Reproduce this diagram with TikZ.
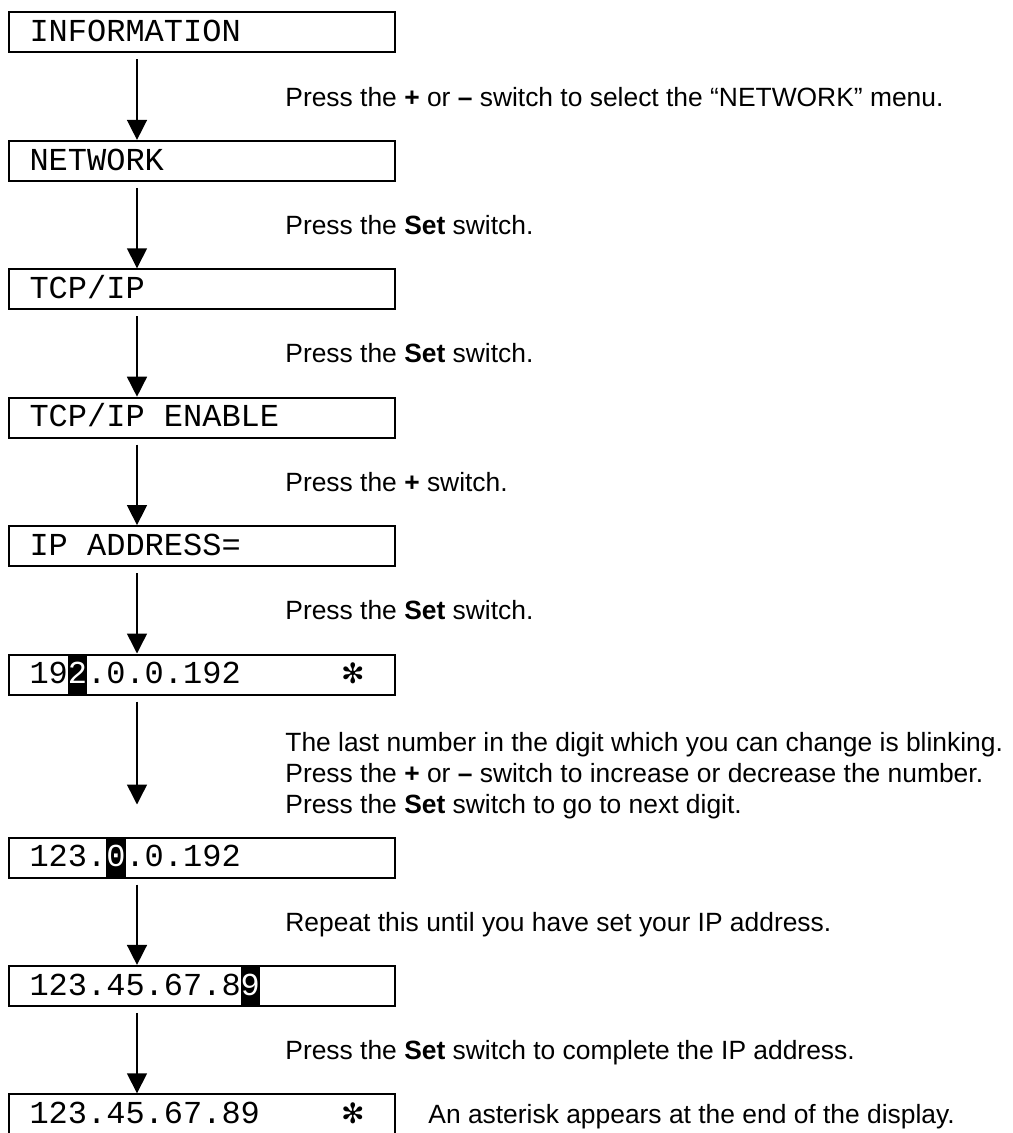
\documentclass[tikz,border=0pt]{standalone}
\usepackage{fontspec}
\usepackage{xcolor}
\usepackage{tikz}
\usetikzlibrary{arrows.meta,positioning,calc}
\setsansfont{Liberation Sans}
\setmonofont{Liberation Mono}
\newfontfamily\symfont{DejaVu Sans}
\newcommand{\blink}[1]{{\setlength{\fboxsep}{0pt}\colorbox{black}{\rule[-5.4pt]{0pt}{20pt}\textcolor{white}{#1}}}}
\newcommand{\lcdstar}{\hskip 0pt plus 1filll{\symfont\fontsize{14}{14}\selectfont ✻}\hspace*{5pt}\mbox{}}
\newcommand{\blank}{\hspace*{0.6em}}
\tikzset{
  lcd/.style={draw=black, line width=1pt, minimum width=193pt, text width=172.5pt, inner xsep=10.25pt, inner ysep=0pt, text height=14.6pt, text depth=5.4pt, align=left, font=\ttfamily\fontsize{16}{16}\selectfont},
  note/.style={inner sep=0pt, anchor=west, text height=9.4pt, text depth=0pt, font=\sffamily\fontsize{13.2}{15.5}\selectfont},
  flow/.style={-{Triangle[length=10pt,width=10pt]}, line width=0.75pt, draw=black}
}
\begin{document}
\begin{tikzpicture}[node distance=43.2pt]
  \useasboundingbox (0,0) rectangle (506pt,-566.5pt);
  \node[lcd] (info) at (101pt,-16.25pt) {INFORMATION};
  \node[lcd, below=of info] (net) {NETWORK};
  \node[lcd, below=of net] (tcp) {TCP/IP};
  \node[lcd, below=of tcp] (enable) {TCP/IP\blank ENABLE};
  \node[lcd, below=of enable] (ipaddr) {IP\blank ADDRESS=};
  \node[lcd, below=of ipaddr] (first) {19\blink{2}.0.0.192\lcdstar};
  \node[lcd, below=70.5pt of first] (second) {123.\blink{0}.0.192};
  \node[lcd, below=of second] (last) {123.45.67.8\blink{9}};
  \node[lcd, below=of last] (done) {123.45.67.89\lcdstar};

  % instructions beside the arrows
  \node[note] (t1) at ($(info.south west)!0.5!(net.north west)+(138.5pt,0)$) {Press the \textbf{+} or \textbf{--} switch to select the “NETWORK” menu.};
  \node[note] (t2) at ($(net.south west)!0.5!(tcp.north west)+(138.5pt,0)$) {Press the \textbf{Set} switch.};
  \node[note] (t3) at ($(tcp.south west)!0.5!(enable.north west)+(138.5pt,0)$) {Press the \textbf{Set} switch.};
  \node[note] (t4) at ($(enable.south west)!0.5!(ipaddr.north west)+(138.5pt,0)$) {Press the \textbf{+} switch.};
  \node[note] (t5) at ($(ipaddr.south west)!0.5!(first.north west)+(138.5pt,0)$) {Press the \textbf{Set} switch.};
  \node[note, anchor=north west, text height=, text depth=, align=left] (t6) at ([xshift=138.5pt,yshift=-18pt]first.south west) {The last number in the digit which you can change is blinking.\\Press the \textbf{+} or \textbf{--} switch to increase or decrease the number.\\Press the \textbf{Set} switch to go to next digit.};
  \node[note] (t7) at ($(second.south west)!0.5!(last.north west)+(138.5pt,0)$) {Repeat this until you have set your IP address.};
  \node[note] (t8) at ($(last.south west)!0.5!(done.north west)+(138.5pt,0)$) {Press the \textbf{Set} switch to complete the IP address.};
  \node[note, right=16pt of done] (t9) {An asterisk appears at the end of the display.};

  \draw[flow] ([xshift=64.5pt,yshift=-3pt]info.south west) -- ([xshift=64.5pt]net.north west);
  \draw[flow] ([xshift=64.5pt,yshift=-3pt]net.south west) -- ([xshift=64.5pt]tcp.north west);
  \draw[flow] ([xshift=64.5pt,yshift=-3pt]tcp.south west) -- ([xshift=64.5pt]enable.north west);
  \draw[flow] ([xshift=64.5pt,yshift=-3pt]enable.south west) -- ([xshift=64.5pt]ipaddr.north west);
  \draw[flow] ([xshift=64.5pt,yshift=-3pt]ipaddr.south west) -- ([xshift=64.5pt]first.north west);
  \draw[flow] ([xshift=64.5pt,yshift=-3pt]first.south west) -- ([xshift=64.5pt,yshift=16pt]second.north west);
  \draw[flow] ([xshift=64.5pt,yshift=-3pt]second.south west) -- ([xshift=64.5pt]last.north west);
  \draw[flow] ([xshift=64.5pt,yshift=-3pt]last.south west) -- ([xshift=64.5pt]done.north west);
\end{tikzpicture}
\end{document}
